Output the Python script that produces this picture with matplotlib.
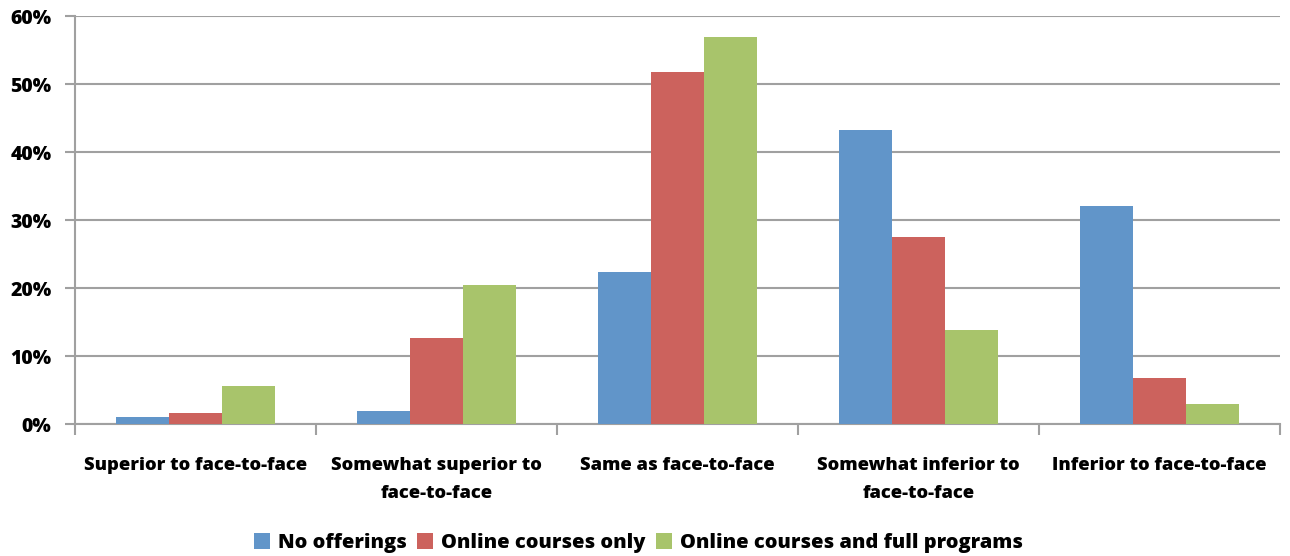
import numpy as np
import matplotlib
matplotlib.use('Agg')
from matplotlib import pyplot as plt
from matplotlib.ticker import MultipleLocator, PercentFormatter

categories = ['Superior to face-to-face', 'Somewhat superior to\nface-to-face',
              'Same as face-to-face', 'Somewhat inferior to\nface-to-face',
              'Inferior to face-to-face']
series = ['No offerings', 'Online courses only', 'Online courses and full programs']
no_offerings = [1.0, 1.9, 22.3, 43.2, 32.1]
courses_only = [1.6, 12.6, 51.7, 27.5, 6.8]
full_programs = [5.6, 20.5, 56.9, 13.8, 3.0]
colors = ['#6195C9', '#CC625D', '#A8C46B']

plt.rcParams['font.family'] = ['Open Sans', 'DejaVu Sans']
plt.rcParams['font.weight'] = 800

fig = plt.figure(figsize=(12.9, 5.56), dpi=100)
ax = fig.add_axes([75/1290, 1 - 424/556, 1205/1290, 408/556])

x = np.arange(len(categories))
w = 0.22
for i, (vals, name) in enumerate(zip([no_offerings, courses_only, full_programs], series)):
    ax.bar(x + (i - 1) * w, vals, w, color=colors[i], label=name, zorder=3)

ax.set_xlim(-0.5, len(categories) - 0.5)
ax.set_ylim(0, 60)
ax.yaxis.set_major_locator(MultipleLocator(10))
ax.yaxis.set_major_formatter(PercentFormatter(decimals=0))
ax.grid(axis='y', color='#A0A0A0', linewidth=1.5, zorder=0)

for s in ['top', 'right']:
    ax.spines[s].set_visible(False)
for s in ['left', 'bottom']:
    ax.spines[s].set_color('#A0A0A0')
    ax.spines[s].set_linewidth(1.5)

ax.set_xticks(np.arange(len(categories) + 1) - 0.5)
ax.set_xticklabels([])
ax.set_xticks(x, minor=True)
ax.set_xticklabels(categories, minor=True, fontsize=13.2, fontweight=800, linespacing=1.8)
ax.tick_params(axis='x', which='minor', length=0, pad=24)
ax.tick_params(axis='x', which='major', length=8, color='#A0A0A0', width=1.5)
ax.tick_params(axis='y', length=7, color='#A0A0A0', width=1.5, labelsize=14, pad=10)

fig.legend(loc='center', bbox_to_anchor=(0.495, 1 - 543/556), ncol=3, frameon=False,
           handlelength=0.8, handleheight=0.8, handletextpad=0.4,
           columnspacing=0.5, prop={'weight': 800, 'size': 14.4})

plt.savefig('out.png')
